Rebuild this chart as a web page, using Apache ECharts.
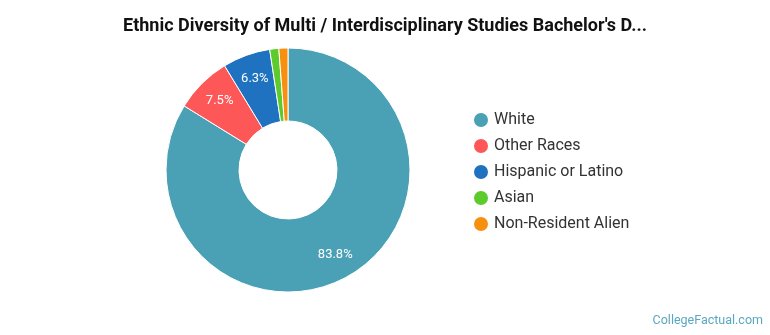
<!DOCTYPE html>
<html>
<head>
<meta charset="utf-8">
<script src="https://cdn.jsdelivr.net/npm/echarts@6/dist/echarts.min.js"></script>
<style>
html,body{margin:0;padding:0;background:#fff;}
#chart{width:770px;height:335px;}
</style>
</head>
<body>
<div id="chart"></div>
<script>
const categories = ['White', 'Other Races', 'Hispanic or Latino', 'Asian', 'Non-Resident Alien'];
const values = [83.8, 7.5, 6.3, 1.2, 1.2];
const colors = ['#4aa0b5', '#fd5758', '#1f72bf', '#5ccb2b', '#f8900f'];
const titleText = "Ethnic Diversity of Multi / Interdisciplinary Studies Bachelor's D...";

const chart = echarts.init(document.getElementById('chart'), null, {renderer: 'canvas'});
const pieData = categories.map((name, i) => ({name, value: values[i], itemStyle: {color: colors[i]}}));

chart.setOption({
  animation: false,
  title: {
    text: titleText,
    left: 'center',
    top: 12,
    textStyle: {fontFamily: 'Roboto', fontSize: 18, fontWeight: 'bold', color: '#111'}
  },
  legend: {
    orient: 'vertical',
    left: 467,
    top: 106,
    icon: 'circle',
    itemWidth: 16,
    itemHeight: 16,
    itemGap: 8,
    data: categories,
    textStyle: {fontFamily: 'Roboto', fontSize: 16, color: '#333'}
  },
  graphic: [{
    type: 'text',
    right: 7,
    top: 314,
    style: {text: 'CollegeFactual.com', fontFamily: 'Roboto', fontSize: 12.5, fill: '#5aa8c0'}
  }],
  series: [
    {
      type: 'pie',
      center: [288, 170],
      radius: [49, 122],
      startAngle: 90,
      clockwise: true,
      avoidLabelOverlap: false,
      itemStyle: {borderColor: '#fff', borderWidth: 1},
      label: {show: false},
      labelLine: {show: false},
      data: pieData
    },
    {
      type: 'pie',
      center: [288, 170],
      radius: [66, 122],
      startAngle: 90,
      clockwise: true,
      silent: true,
      avoidLabelOverlap: false,
      legendHoverLink: false,
      itemStyle: {color: 'rgba(0,0,0,0)', borderWidth: 0},
      label: {
        show: true,
        position: 'inside',
        fontFamily: 'Roboto',
        fontSize: 13,
        color: '#fff',
        formatter: p => p.value >= 5 ? p.value.toFixed(1) + '%' : ''
      },
      labelLine: {show: false},
      data: categories.map((name, i) => ({name, value: values[i]}))
    }
  ]
});
</script>
</body>
</html>
